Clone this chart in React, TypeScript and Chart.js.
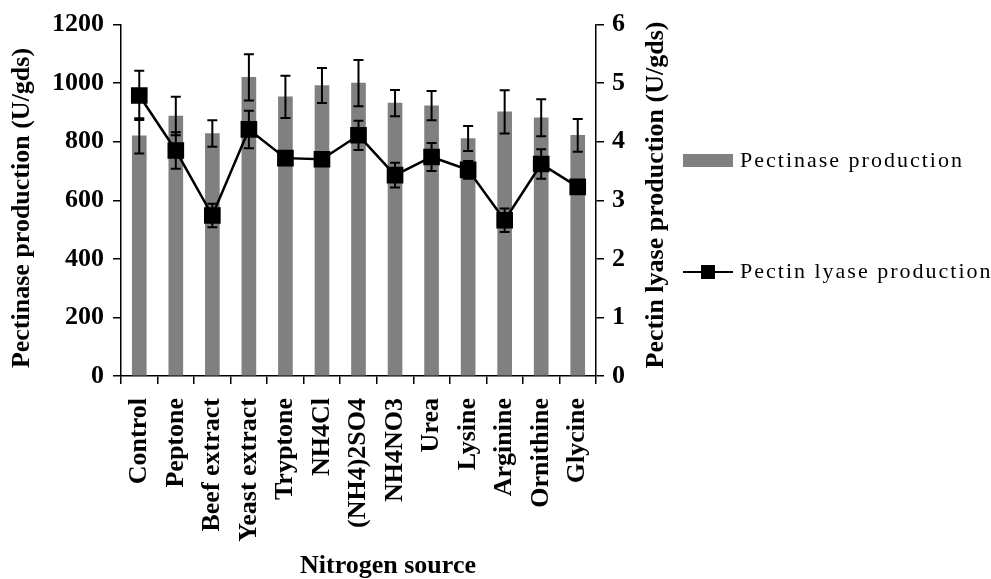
import React, { useEffect, useRef } from "react";
import { Chart, registerables } from "chart.js";

Chart.register(...registerables);

const categories = [
  "Control", "Peptone", "Beef extract", "Yeast extract", "Tryptone", "NH4Cl",
  "(NH4)2SO4", "NH4NO3", "Urea", "Lysine", "Arginine", "Ornithine", "Glycine",
];
const pectinase = [820, 888, 828, 1020, 953, 992, 1000, 932, 923, 811, 902, 882, 822];
const pectinaseErr = [60, 66, 45, 79, 72, 60, 79, 45, 50, 43, 74, 63, 56];
const pectinLyase = [4.79, 3.85, 2.74, 4.21, 3.72, 3.7, 4.11, 3.43, 3.74, 3.52, 2.66, 3.62, 3.23];
const pectinLyaseErr = [0.42, 0.31, 0.2, 0.32, 0.05, 0.05, 0.25, 0.21, 0.24, 0.15, 0.2, 0.25, 0.05];
const leftTicks = [0, 200, 400, 600, 800, 1000, 1200];
const rightTicks = [0, 1, 2, 3, 4, 5, 6];

const barLabel = "Pectinase production";
const lineLabel = "Pectin lyase production";
const leftTitle = "Pectinase production (U/gds)";
const rightTitle = "Pectin lyase production (U/gds)";
const xTitle = "Nitrogen source";

const SERIF = "'Liberation Serif', 'Times New Roman', serif";
const BOLD = `bold 26px ${SERIF}`;

const errorBarPlugin = {
  id: "errorBars",
  afterDatasetsDraw(chart: any) {
    const ctx = chart.ctx;
    const xs = chart.scales.x;
    const y = chart.scales.y;
    const y1 = chart.scales.y1;
    ctx.save();
    ctx.strokeStyle = "#000";
    ctx.lineWidth = 2;
    const cap = 5;
    const drawErr = (px: number, top: number, bot: number) => {
      ctx.beginPath();
      ctx.moveTo(px, top);
      ctx.lineTo(px, bot);
      ctx.moveTo(px - cap, top);
      ctx.lineTo(px + cap, top);
      ctx.moveTo(px - cap, bot);
      ctx.lineTo(px + cap, bot);
      ctx.stroke();
    };
    categories.forEach((_, i) => {
      const px = xs.getPixelForValue(i);
      drawErr(px, y.getPixelForValue(pectinase[i] + pectinaseErr[i]), y.getPixelForValue(pectinase[i] - pectinaseErr[i]));
      drawErr(px, y1.getPixelForValue(pectinLyase[i] + pectinLyaseErr[i]), y1.getPixelForValue(pectinLyase[i] - pectinLyaseErr[i]));
    });
    ctx.restore();
  },
};

const decorPlugin = {
  id: "decor",
  afterDraw(chart: any) {
    const ctx = chart.ctx;
    const area = chart.chartArea;
    ctx.save();
    ctx.fillStyle = "#000";
    ctx.font = BOLD;
    ctx.textAlign = "center";
    ctx.textBaseline = "middle";
    // left title
    ctx.save();
    ctx.translate(22, 208);
    ctx.rotate(-Math.PI / 2);
    ctx.fillText(leftTitle, 0, 0);
    ctx.restore();
    // right title
    ctx.save();
    ctx.translate(area.right + 60, 195);
    ctx.rotate(-Math.PI / 2);
    ctx.fillText(rightTitle, 0, 0);
    ctx.restore();
    // x title
    ctx.fillText(xTitle, 388, 566);

    // legend
    const lx = 683;
    ctx.fillStyle = "#808080";
    ctx.fillRect(lx, 154, 50, 13);
    ctx.strokeStyle = "#000";
    ctx.lineWidth = 2;
    ctx.beginPath();
    ctx.moveTo(lx, 272);
    ctx.lineTo(lx + 50, 272);
    ctx.stroke();
    ctx.fillStyle = "#000";
    ctx.fillRect(lx + 25 - 7, 272 - 7, 14, 14);
    ctx.font = `22px ${SERIF}`;
    (ctx as any).letterSpacing = "2px";
    ctx.textAlign = "left";
    ctx.textBaseline = "middle";
    ctx.fillText(barLabel, 740, 161);
    ctx.fillText(lineLabel, 740, 272);
    ctx.restore();
  },
};

export default function App() {
  const ref = useRef<HTMLCanvasElement>(null);
  useEffect(() => {
    document.body.style.margin = "0";
    const canvas = ref.current;
    if (!canvas) return;
    const chart = new Chart(canvas, {
      type: "bar",
      data: {
        labels: categories,
        datasets: [
          {
            type: "line",
            label: lineLabel,
            data: pectinLyase,
            yAxisID: "y1",
            borderColor: "#000",
            backgroundColor: "#000",
            borderWidth: 2.5,
            pointStyle: "rect",
            pointRadius: 10,
            pointHoverRadius: 10,
            pointBackgroundColor: "#000",
            pointBorderColor: "#000",
            tension: 0,
            order: 0,
          } as any,
          {
            type: "bar",
            label: barLabel,
            data: pectinase,
            yAxisID: "y",
            backgroundColor: "#808080",
            barThickness: 14,
            order: 1,
          },
        ],
      },
      plugins: [errorBarPlugin, decorPlugin],
      options: {
        responsive: false,
        animation: false,
        layout: { padding: { top: 22, right: 355, left: 0, bottom: 0 } },
        plugins: { legend: { display: false }, tooltip: { enabled: false } },
        scales: {
          x: {
            type: "category",
            offset: true,
            grid: { display: true, drawOnChartArea: false, offset: true, drawTicks: true, tickLength: 8, color: "#000", lineWidth: 1.5 },
            border: { display: true, color: "#000", width: 1.5 },
            ticks: {
              color: "#000",
              font: { family: SERIF, size: 26, weight: "bold" },
              minRotation: 90,
              maxRotation: 90,
              autoSkip: false,
              padding: 14,
            },
            afterFit: (s: any) => { s.height = 203; },
          },
          y: {
            position: "left",
            min: 0,
            max: 1200,
            afterBuildTicks: (s: any) => { s.ticks = leftTicks.map((v) => ({ value: v })); },
            grid: { display: true, drawOnChartArea: false, drawTicks: true, tickLength: 8, color: "#000", lineWidth: 1.5 },
            border: { display: true, color: "#000", width: 1.5 },
            ticks: { color: "#000", font: { family: SERIF, size: 26, weight: "bold" }, padding: 9, callback: (v: any) => String(v) },
            afterFit: (s: any) => { s.width = 121; },
          },
          y1: {
            position: "right",
            min: 0,
            max: 6,
            afterBuildTicks: (s: any) => { s.ticks = rightTicks.map((v) => ({ value: v })); },
            grid: { display: true, drawOnChartArea: false, drawTicks: true, tickLength: 8, color: "#000", lineWidth: 1.5 },
            border: { display: true, color: "#000", width: 1.5 },
            ticks: { color: "#000", font: { family: SERIF, size: 26, weight: "bold" }, padding: 8, callback: (v: any) => String(v) },
            afterFit: (s: any) => { s.width = 40; },
          },
        },
      } as any,
    });
    return () => chart.destroy();
  }, []);
  return (
    <div style={{ width: 991, height: 579, background: "#fff" }}>
      <canvas ref={ref} width={991} height={579} />
    </div>
  );
}
